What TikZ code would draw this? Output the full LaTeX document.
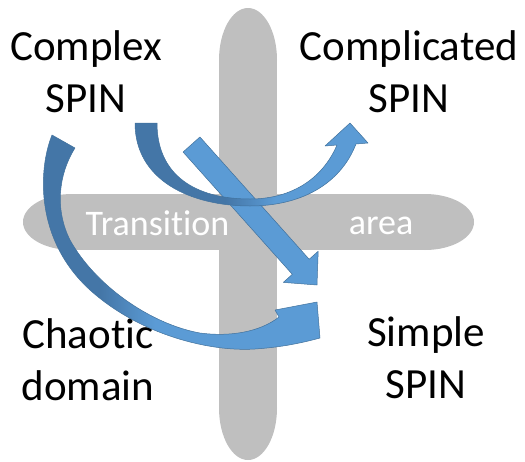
\documentclass[tikz,border=0pt]{standalone}
\usepackage{fontspec}
\setmainfont{Carlito}[Ligatures=NoCommon]
\usetikzlibrary{calc}
\definecolor{areagray}{RGB}{191,191,191}
\definecolor{arrowlight}{RGB}{91,155,213}
\definecolor{arrowdark}{RGB}{68,118,167}
\definecolor{arrowedge}{RGB}{65,113,156}
\begin{document}
\begin{tikzpicture}[x=1pt,y=-1pt,
  spinlabel/.style={font=\fontsize{43}{52}\selectfont, align=center, inner sep=0pt, anchor=base},
  zonetext/.style={font=\fontsize{36}{43}\selectfont, text=white, inner sep=0pt, anchor=base},
  arrowrim/.style={draw=arrowedge, line width=0.5pt, line join=round}]
\useasboundingbox (0,0) rectangle (525,461);

% the two crossing transition zones: long bars with elliptic ends
\begin{scope}[areagray]
  \fill (248,60) ellipse [x radius=29, y radius=52];
  \fill (248,408) ellipse [x radius=29, y radius=52];
  \fill (219,60) rectangle (277,408);
  \fill (72,222) ellipse [x radius=49, y radius=28];
  \fill (425,222) ellipse [x radius=49, y radius=28];
  \fill (72,194) rectangle (425,250);
\end{scope}
\node[zonetext] (trans) at (157.5,235) {Transition};
\node[zonetext] (area) at (381,234) {area};

% quadrant labels (anchored at the baseline of their last line)
\node[spinlabel] (complex) at (86,112) {Complex\\SPIN};
\node[spinlabel] (complicated) at (409,112) {Complicated\\SPIN};
\node[spinlabel] (chaotic) at (88,400) {Chaotic\\domain};
\node[spinlabel] (simple) at (426,398) {Simple\\SPIN};

% straight block arrow: complex -> simple
\coordinate (s0) at (191.5,144.5);
\coordinate (s1) at (317,285);
\coordinate (sb) at ($(s0)!164pt!(s1)$);
\filldraw[fill=arrowlight, arrowrim]
  ($(s0)!11.3pt!90:(s1)$) -- ($(sb)!11.3pt!90:(s1)$) -- ($(sb)!23.4pt!90:(s1)$)
  -- (s1) -- ($(sb)!23.4pt!-90:(s1)$) -- ($(sb)!11.3pt!-90:(s1)$)
  -- ($(s0)!11.3pt!-90:(s1)$) -- cycle;

% curved up arrow: complex -> complicated
\def\arrowone{(135,123) .. controls (135,180) and (190,206) .. (250,206)
  .. controls (300,206) and (340,185) .. (356,144) -- (368,143) -- (350,123)
  -- (325,146) -- (337,145) .. controls (322,180) and (290,199) .. (250,199)
  .. controls (195,199) and (157,175) .. (157,123) -- cycle}
\begin{scope}
  \clip \arrowone;
  \fill[arrowdark] (120,100) rectangle (225,215);
  \shade[left color=arrowdark, right color=arrowlight] (225,100) rectangle (275,215);
  \fill[arrowlight] (275,100) rectangle (380,215);
\end{scope}
\draw[arrowrim] \arrowone;

% long curved arrow: complex -> simple through the chaotic side
\def\arrowtwo{(52,135) .. controls (38,170) and (35,240) .. (90,290)
  .. controls (140,335) and (210,352) .. (255,349)
  .. controls (285,347) and (305,342) .. (320,338) -- (317,302) -- (275,310)
  -- (279,317) .. controls (260,332) and (230,337) .. (200,333)
  .. controls (150,324) and (95,285) .. (70,240)
  .. controls (55,210) and (58,175) .. (75,148) -- cycle}
\begin{scope}
  \clip \arrowtwo;
  \fill[arrowdark] (30,120) rectangle (100,360);
  \shade[left color=arrowdark, right color=arrowlight] (100,120) rectangle (155,360);
  \fill[arrowlight] (155,120) rectangle (330,360);
\end{scope}
\draw[arrowrim] \arrowtwo;
\end{tikzpicture}
\end{document}
